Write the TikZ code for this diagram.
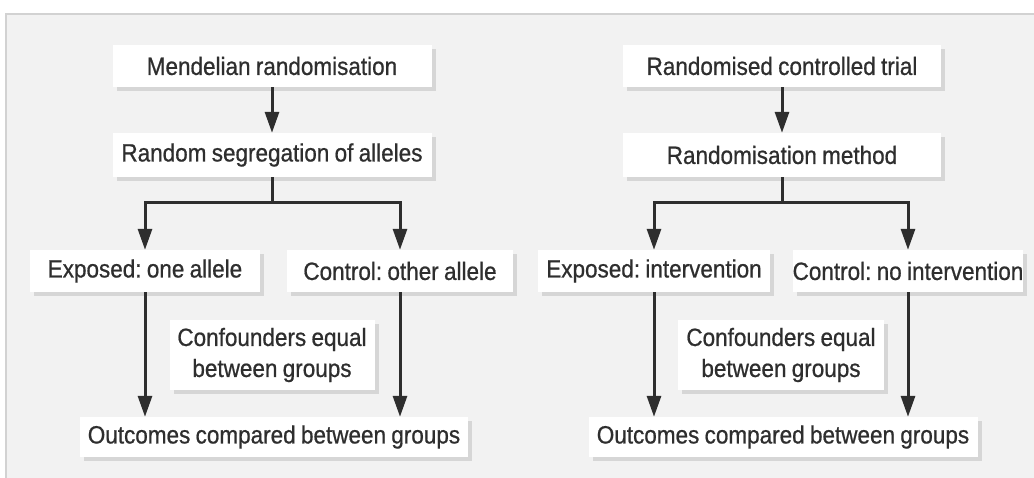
\documentclass[tikz,border=0pt]{standalone}
\usepackage{fontspec}
\setmainfont{Liberation Sans}[FakeStretch=0.9,FakeBold=0.7,WordSpace=0.85]
\usetikzlibrary{arrows.meta,shadows}
\frenchspacing
\definecolor{bggrey}{HTML}{F2F2F2}
\definecolor{edgegrey}{HTML}{D2D2D2}
\definecolor{inkgrey}{HTML}{2E2E2E}
\tikzset{
  box/.style={fill=white,text=inkgrey,inner sep=0pt,minimum height=42pt,align=center,
    font=\fontsize{25}{31}\selectfont,
    drop shadow={shadow xshift=4pt,shadow yshift=-4pt,fill=black!16,opacity=1}},
  arr/.style={draw=inkgrey,line width=3pt,-{Triangle[length=21pt,width=14pt]}},
  bar/.style={draw=inkgrey,line width=3pt}
}
\begin{document}
\begin{tikzpicture}[x=1pt,y=-1pt]
  \useasboundingbox (0,0) rectangle (1034,478);
  \fill[white] (0,0) rectangle (1034,478);
  \fill[bggrey] (6,14) rectangle (1034,478);
  \draw[edgegrey,line width=2pt] (6,478) -- (6,14) -- (1034,14);
  % left: Mendelian randomisation
  \node[box,minimum width=319pt] (mr) at (272,66) {Mendelian randomisation};
  \node[box,minimum width=319pt,minimum height=44pt] (rsa) at (272,155) {Random segregation of alleles};
  \node[box,minimum width=230pt] (expL) at (145,271) {Exposed: one allele};
  \node[box,minimum width=226pt] (ctlL) at (400,271) {Control: other allele};
  \node[box,minimum width=205pt,minimum height=70pt] (confL) at (272,355) {Confounders equal\\between groups};
  \node[box,minimum width=388pt,minimum height=40pt] (outL) at (274,437) {Outcomes compared between groups};
  \draw[arr] (mr) -- (rsa);
  \draw[bar] (rsa.south) -- ++(0,25) coordinate (splitL);
  \draw[arr] (splitL) -| (expL.north);
  \draw[arr] (splitL) -| (ctlL.north);
  \draw[arr] (expL.south) -- (expL.south |- outL.north);
  \draw[arr] (ctlL.south) -- (ctlL.south |- outL.north);
  % right: randomised controlled trial
  \node[box,minimum width=318pt] (rct) at (782,66) {Randomised controlled trial};
  \node[box,minimum width=318pt,minimum height=44pt] (rm) at (782,155) {Randomisation method};
  \node[box,minimum width=232pt] (expR) at (654,271) {Exposed: intervention};
  \node[box,minimum width=229pt] (ctlR) at (908,271) {Control: no intervention};
  \node[box,minimum width=206pt,minimum height=70pt] (confR) at (781,355) {Confounders equal\\between groups};
  \node[box,minimum width=389pt,minimum height=40pt] (outR) at (783,437) {Outcomes compared between groups};
  \draw[arr] (rct) -- (rm);
  \draw[bar] (rm.south) -- ++(0,25) coordinate (splitR);
  \draw[arr] (splitR) -| (expR.north);
  \draw[arr] (splitR) -| (ctlR.north);
  \draw[arr] (expR.south) -- (expR.south |- outR.north);
  \draw[arr] (ctlR.south) -- (ctlR.south |- outR.north);
\end{tikzpicture}
\end{document}
